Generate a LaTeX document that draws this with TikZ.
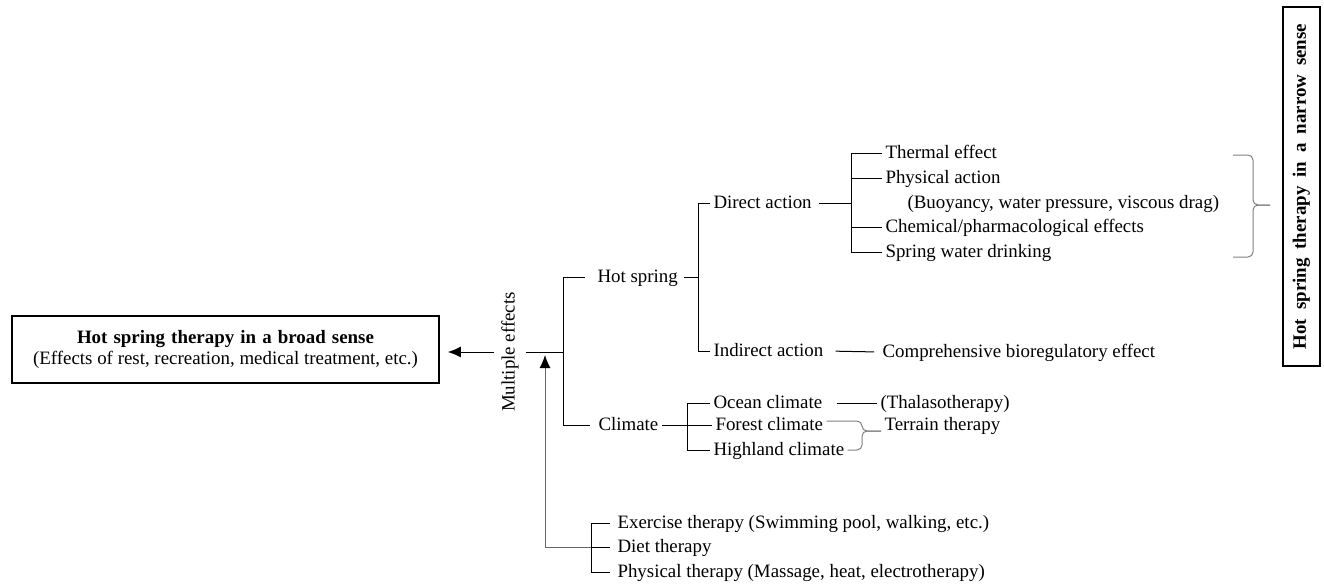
\documentclass[tikz,border=0pt]{standalone}
\usepackage{fontspec}
\setmainfont{Liberation Serif}
\usetikzlibrary{arrows.meta}
\newcommand\widesp[1]{\spaceskip=#1\fontdimen2\font\relax}
\tikzset{every path/.style={line width=1pt}, item/.style={anchor=west, inner xsep=3pt, inner ysep=0pt, text height=14pt, text depth=3pt}, frame/.style={draw, line width=1.6pt, align=center, inner sep=0pt}, brk/.style={gray, rounded corners=5pt}, tip/.style={-{Latex[length=13pt,width=11pt,color=black]}}}

\begin{document}
\begin{tikzpicture}[x=1pt,y=-1pt,font=\fontsize{18.9}{21}\selectfont]
  \useasboundingbox (0,0) rectangle (1324,587);

  \node[frame, minimum width=427pt, minimum height=67pt] (broad) at (225.5,349.5)
    {\textbf{\widesp{1.3}Hot spring therapy in a broad sense}\\(Effects of rest, recreation, medical treatment, etc.)};
  \node[frame, rotate=90, minimum width=359pt, minimum height=37pt, font=\fontsize{18.9}{21}\selectfont\bfseries\widesp{1.9}] (narrow) at (1301.5,186.5)
    {Hot spring therapy in a narrow sense};
  \node[rotate=90, inner xsep=0pt, inner ysep=5pt] (multi) at (510,352) {Multiple effects};

  \coordinate (root) at (563,352);
  \coordinate (join) at (545,352);
  \coordinate (corner) at (545,547);
  \coordinate (hj) at (698,277);
  \coordinate (dj) at (851,203);
  \coordinate (cj) at (687,425);
  \coordinate (oj) at (591,547);

  \node[item] (hot)      at (594,277) {Hot spring};
  \node[item] (climate)  at (595,425) {Climate};
  \node[item] (direct)   at (710,203) {Direct action};
  \node[item] (indirect) at (710,351) {Indirect action};
  \node[item] (thermal)  at (882,153) {Thermal effect};
  \node[item] (physical) at (882,178) {Physical action};
  \node[item] (buoy)     at (904,203) {(Buoyancy, water pressure, viscous drag)};
  \node[item] (chem)     at (882,227) {Chemical/pharmacological effects};
  \node[item] (drink)    at (882,252) {Spring water drinking};
  \node[item] (compre)   at (879,352) {Comprehensive bioregulatory effect};
  \node[item] (ocean)    at (710,403) {Ocean climate};
  \node[item] (forest)   at (712,425) {Forest climate};
  \node[item] (highland) at (710,450) {Highland climate};
  \node[item] (thalaso)  at (877,403) {(Thalasotherapy)};
  \node[item] (terrain)  at (881,425) {Terrain therapy};
  \node[item] (exercise) at (614,523) {Exercise therapy (Swimming pool, walking, etc.)};
  \node[item] (diet)     at (614,547) {Diet therapy};
  \node[item] (phys)     at (614,572) {Physical therapy (Massage, heat, electrotherapy)};

  \draw[tip, shorten <=2pt, shorten >=8pt] (multi.north) -- (multi.north -| broad.east);
  \draw[shorten >=2pt] (root) -- (multi.south);
  \draw[shorten >=9pt] (root) |- (hot.west);
  \draw[shorten >=5pt] (root) |- (climate.west);
  \draw[shorten <=3pt] (hot.east) -- (hj);
  \draw (hj) |- (direct.west);
  \draw (hj) |- (indirect.west);
  \draw[shorten <=4pt] (direct.east) -- (dj);
  \draw (dj) |- (thermal.west);
  \draw (dj) |- (physical.west);
  \draw (dj) |- (chem.west);
  \draw (dj) |- (drink.west);
  \draw[shorten <=9pt, shorten >=5pt] (indirect.east) -- (compre.west);
  \draw (climate.east) -- (cj);
  \draw (cj) |- (ocean.west);
  \draw (cj) |- (forest.west);
  \draw (cj) |- (highland.west);
  \draw[shorten <=11pt] (ocean.east) -- (thalaso.west);
  \draw[shorten >=4pt] (oj) |- (exercise.west);
  \draw[shorten >=4pt] (oj) |- (diet.west);
  \draw[shorten >=4pt] (oj) |- (phys.west);
  \draw[gray!80!black] (oj) -- (corner);
  \draw[tip, gray!80!black, shorten >=3pt] (corner) -- (join);

  \coordinate (tb) at ([yshift=-6pt]terrain.west);
  \draw[brk] ([yshift=4pt]forest.east) -| ([xshift=-19pt]tb) -- (tb);
  \draw[brk] (highland.east) -| ([xshift=-19pt]tb) -- (tb);
  \draw[brk] (1233,155) -| (1253,205) -- (1270,205);
  \draw[brk] (1233,257) -| (1253,205) -- (1270,205);
\end{tikzpicture}
\end{document}
